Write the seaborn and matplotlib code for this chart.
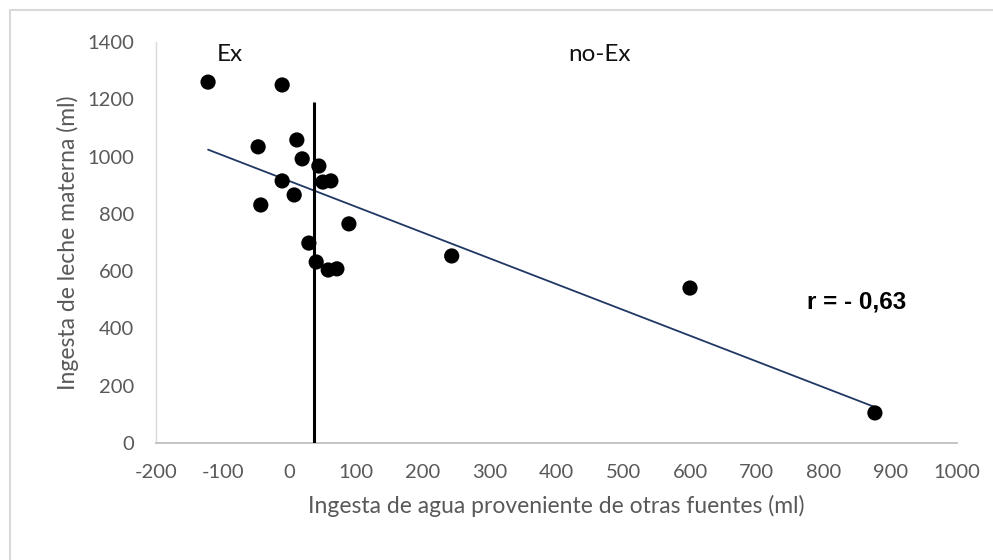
import matplotlib
matplotlib.use("Agg")
import matplotlib.pyplot as plt
import seaborn as sns
import pandas as pd
from matplotlib.patches import Rectangle

# ---- data ----
agua_otras_fuentes = [-122, -11, -47, 11, 19, 44, -11, 50, 62, 7, -43, 89, 29, 40, 58, 71, 243, 600, 877]
leche_materna = [1260, 1250, 1034, 1058, 992, 967, 915, 911, 915, 866, 831, 765, 698, 632, 604, 608, 653, 541, 105]
corte_x = 37          # vertical separator Ex / no-Ex
corte_top = 1190
x_ticks = list(range(-200, 1001, 100))
y_ticks = list(range(0, 1401, 200))
x_label = "Ingesta de agua proveniente de otras fuentes (ml)"
y_label = "Ingesta de leche materna (ml)"
r_text = "r = - 0,63"

df = pd.DataFrame({"x": agua_otras_fuentes, "y": leche_materna})

sns.set_theme(style="white")
plt.rcParams["font.family"] = ["Lato", "DejaVu Sans"]
plt.rcParams["axes.unicode_minus"] = False

fig = plt.figure(figsize=(9.93, 5.60), dpi=100)
ax = fig.add_axes([156 / 993, 1 - 443 / 560, (957 - 156) / 993, (443 - 42) / 560])

sns.regplot(data=df, x="x", y="y", ax=ax, ci=None, truncate=True,
            scatter=False, line_kws=dict(color="#1F3864", lw=1.3, zorder=2))
sns.scatterplot(data=df, x="x", y="y", ax=ax, color="black", s=120,
                edgecolor="none", zorder=3)
ax.vlines([corte_x], [0], [corte_top], color="black", lw=2.2, zorder=4)

ax.set_xlim(-200, 1000)
ax.set_ylim(0, 1400)
ax.set_xticks(x_ticks)
ax.set_yticks(y_ticks)
ax.set_xticklabels([str(v) for v in x_ticks])
ax.set_yticklabels([str(v) for v in y_ticks])
ax.tick_params(axis="both", length=0, labelsize=14.5, labelcolor="#595959")
ax.tick_params(axis="x", pad=15)
ax.tick_params(axis="y", pad=16)

ax.set_xlabel(x_label, fontsize=16.5, color="#595959", labelpad=10)
ax.set_ylabel(y_label, fontsize=16.5, color="#595959", labelpad=6)

for s in ["top", "right"]:
    ax.spines[s].set_visible(False)
ax.spines["bottom"].set_color("#BFBFBF")
ax.spines["bottom"].set_linewidth(1.3)
ax.spines["left"].set_color("#D9D9D9")
ax.spines["left"].set_linewidth(1.0)
ax.grid(False)

ax.text(-89, 1358, "Ex", fontsize=17.5, color="#111111", ha="center", va="center")
ax.text(465, 1358, "no-Ex", fontsize=17.5, color="#111111", ha="center", va="center")
ax.text(850, 492, r_text, fontsize=17.5, fontweight="bold", color="black",
        ha="center", va="center", family=["Liberation Sans", "DejaVu Sans"])

fig.patches.append(Rectangle((10 / 993, -0.1), 1.2, 1.1 - 10 / 560,
                             transform=fig.transFigure, fill=False,
                             edgecolor="#D9D9D9", lw=1.5))

fig.savefig("out.png", dpi=100)
